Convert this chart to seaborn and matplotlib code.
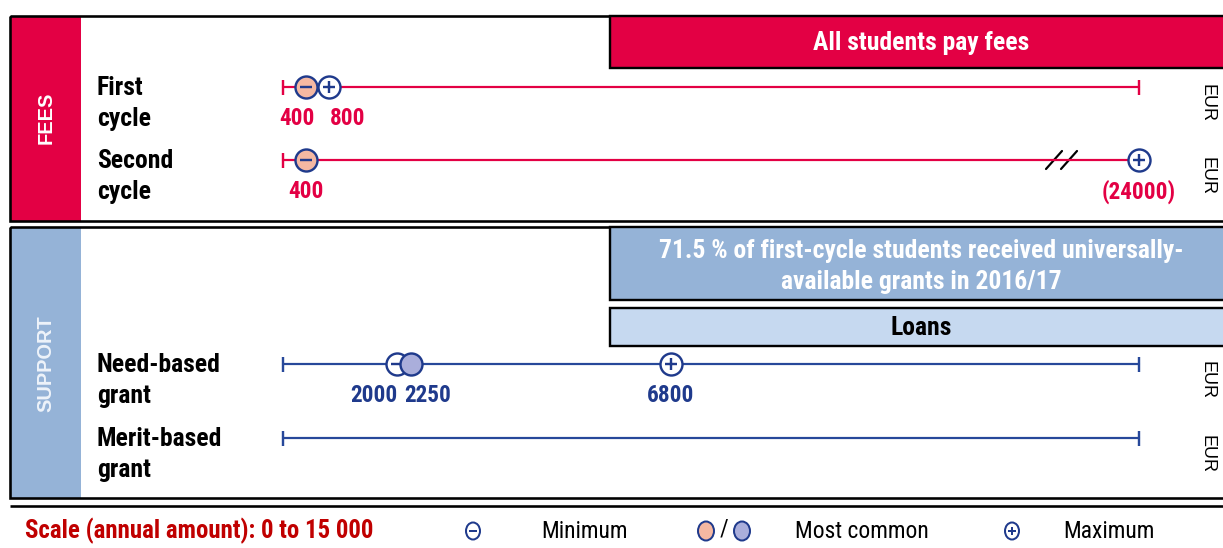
import matplotlib
matplotlib.use("Agg")
import matplotlib.pyplot as plt
from matplotlib.patches import Rectangle, Ellipse
import pandas as pd
import seaborn as sns

# ---- data -------------------------------------------------------------
categories = ["First\ncycle", "Second\ncycle", "Need-based\ngrant", "Merit-based\ngrant"]
sections = ["fees", "fees", "support", "support"]
minimum = [400, 400, 2000, None]
most_common = [400, 400, 2250, None]
maximum = [800, 24000, 6800, None]
scale_range = [0, 15000]

fees_banner = "All students pay fees"
grants_banner = ["71.5 % of first-cycle students received universally-",
                 "available grants in 2016/17"]
loans_banner = "Loans"
legend_scale = "Scale (annual amount): 0 to 15 000"
legend_items = ["Minimum", "Most common", "Maximum"]
unit = "EUR"

# ---- style ------------------------------------------------------------
sns.set_theme(style="white")
NARROW = ["Roboto Condensed", "Liberation Sans Narrow", "Roboto", "DejaVu Sans"]
ARIAL = ["Liberation Sans", "DejaVu Sans"]
plt.rcParams["font.family"] = NARROW

RED = "#E30044"
NAVY = "#1F3A8C"
BLUE_LINE = "#27489A"
BAND_BLUE = "#95B3D7"
LOAN_BLUE = "#C6D9F0"
SALMON = "#F5B8A2"
LAVENDER = "#AAAEDB"
DARK_RED = "#C00000"

W, H = 1223, 548
fig = plt.figure(figsize=(W / 100, H / 100), dpi=100)
renderer = fig.canvas.get_renderer()

# background axes in pixel units for frames, bands and text
bg = fig.add_axes([0, 0, 1, 1])
bg.set_xlim(0, W)
bg.set_ylim(H, 0)
bg.axis("off")

# value axes: x in EUR, 0..15000 spanning the scale line
X0_PX, X1_PX = 283, 1139
k = (X1_PX - X0_PX) / (scale_range[1] - scale_range[0])
ax = fig.add_axes([0, 0, 1, 1])
ax.set_xlim(scale_range[0] - X0_PX / k, scale_range[1] + (W - X1_PX) / k)
ax.set_ylim(H, 0)
ax.axis("off")
ax.patch.set_alpha(0)

PX = 0.72  # points per pixel at 100 dpi


def size_for(text, width_px, **kw):
    """Font size at which `text` spans `width_px` pixels."""
    t = fig.text(0, 0, text, fontsize=20, **kw)
    w = t.get_window_extent(renderer).width
    t.remove()
    return 20 * width_px / w


row_fs = size_for("Need-based", 123, fontweight="bold")
value_fs = size_for("2000", 47, fontweight="bold")
banner_fs = size_for(grants_banner[0], 522, fontweight="bold")
scale_fs = size_for(legend_scale, 349, fontweight="bold")
legend_fs = size_for(legend_items[1], 134)
side_fs = size_for("SUPPORT", 97, fontweight="bold", family=ARIAL)
unit_fs = size_for(unit, 38, family=ARIAL)

# ---- frames -----------------------------------------------------------
def frame(y0, y1, band_color):
    bg.add_patch(Rectangle((10, y0), 1240, y1 - y0, facecolor="white",
                           edgecolor="none", zorder=1))
    bg.add_patch(Rectangle((10, y0), 71, y1 - y0, facecolor=band_color,
                           edgecolor="none", zorder=2))
    bg.add_patch(Rectangle((10, y0), 1240, y1 - y0, facecolor="none",
                           edgecolor="black", lw=2.6 * PX, zorder=3))

frame(16, 221, RED)
frame(227, 498, BAND_BLUE)
bg.plot([10, W], [506, 506], color="black", lw=2.6 * PX, solid_capstyle="butt")

bg.text(46, 118, "FEES", rotation=90, ha="center", va="center", color="white",
        fontsize=side_fs, fontweight="bold", family=ARIAL, zorder=4)
bg.text(46, 364, "SUPPORT", rotation=90, ha="center", va="center", color="#EEF3FA",
        fontsize=side_fs, fontweight="bold", family=ARIAL, zorder=4)

# banners
bg.add_patch(Rectangle((610, 16), 640, 52, facecolor=RED, edgecolor="black",
                       lw=2.4 * PX, zorder=4))
bg.text(921, 43, fees_banner, ha="center", va="center", color="white",
        fontsize=banner_fs, fontweight="bold", zorder=5)
bg.add_patch(Rectangle((610, 227), 640, 73, facecolor=BAND_BLUE, edgecolor="black",
                       lw=2.4 * PX, zorder=4))
for line_txt, ly in zip(grants_banner, (251, 282)):
    bg.text(921, ly, line_txt, ha="center", va="center", color="white",
            fontsize=banner_fs, fontweight="bold", zorder=5)
bg.add_patch(Rectangle((610, 308), 640, 38, facecolor=LOAN_BLUE, edgecolor="black",
                       lw=2.4 * PX, zorder=4))
bg.text(921, 328, loans_banner, ha="center", va="center", color="black",
        fontsize=banner_fs, fontweight="bold", zorder=5)

# ---- rows -------------------------------------------------------------
row_y = [87, 160, 364, 438]
label_offsets = {(0, "min"): -9, (0, "max"): 19, (2, "min"): -23, (2, "common"): 16}


def draw_marker(x, y, glyph, fill, z):
    df = pd.DataFrame({"x": [x], "y": [y]})
    sns.scatterplot(data=df, x="x", y="y", ax=ax, s=(22 * PX) ** 2, color=fill,
                    edgecolor=NAVY, linewidth=2.4 * PX, zorder=z, legend=False)
    if glyph:
        ax.plot([x], [y], marker=glyph, markersize=12 * PX, mew=2.4 * PX,
                color=NAVY, zorder=z + 0.5, linestyle="none")


for i, (cat, sec, vmin, vcom, vmax, y) in enumerate(
        zip(categories, sections, minimum, most_common, maximum, row_y)):
    col = RED if sec == "fees" else BLUE_LINE
    first, second = cat.split("\n")
    bg.text(97, y + 1, first, ha="left", va="center", fontsize=row_fs,
            fontweight="bold", color="black", zorder=5)
    bg.text(97, y + 32, second, ha="left", va="center", fontsize=row_fs,
            fontweight="bold", color="black", zorder=5)
    bg.text(1207, y + 16, unit, rotation=-90, ha="center", va="center",
            fontsize=unit_fs, color="black", family=ARIAL, zorder=5)

    off_scale = vmax is not None and vmax > scale_range[1]
    line = pd.DataFrame({"x": scale_range, "y": [y, y]})
    sns.lineplot(data=line, x="x", y="y", ax=ax, color=col, lw=2.2 * PX,
                 zorder=6, legend=False)
    ax.plot([scale_range[0]], [y], marker="|", markersize=15 * PX, mew=2.4 * PX,
            color=col, zorder=6)
    if not off_scale:
        ax.plot([scale_range[1]], [y], marker="|", markersize=15 * PX, mew=2.4 * PX,
                color=col, zorder=6)
    else:
        # axis break before the off-scale maximum
        for bx in (1054, 1069):
            bg.plot([bx - 8, bx + 8], [y + 9, y - 9], color="black", lw=2.2 * PX, zorder=7)

    if vmin is None:
        continue

    fill_c = SALMON if sec == "fees" else LAVENDER
    labels = []
    z = 10
    if vmin == vcom:
        draw_marker(vmin, y, "_", fill_c, z)
        labels.append(("min", vmin))
    else:
        draw_marker(vmin, y, "_", "white", z)
        z += 1
        draw_marker(vcom, y, None, fill_c, z)
        labels += [("min", vmin), ("common", vcom)]
    z += 1
    draw_marker(min(vmax, scale_range[1]), y, "+", "white", z)
    labels.append(("max", vmax))

    lab_col = RED if sec == "fees" else NAVY
    for kind, v in labels:
        txt = f"({v})" if v > scale_range[1] else f"{v}"
        ax.annotate(txt, xy=(min(v, scale_range[1]), y),
                    xytext=(label_offsets.get((i, kind), 0) * PX, -31.5 * PX),
                    textcoords="offset points", ha="center", va="center",
                    fontsize=value_fs, fontweight="bold", color=lab_col, zorder=12)

# ---- legend -----------------------------------------------------------
LY = 531
bg.text(25, LY, legend_scale, ha="left", va="center", fontsize=scale_fs,
        fontweight="bold", color=DARK_RED)


def legend_icon(x, fill, glyph, w, h):
    bg.add_patch(Ellipse((x, LY), w, h, facecolor=fill,
                         edgecolor=NAVY, lw=2.0 * PX, zorder=5))
    if glyph:
        bg.plot([x], [LY], marker=glyph, markersize=8 * PX, mew=2.0 * PX,
                color=NAVY, zorder=6)


legend_icon(473, "white", "_", 14, 17)
bg.text(541, LY, legend_items[0], ha="left", va="center", fontsize=legend_fs,
        color="black")
legend_icon(706, SALMON, None, 16, 19)
bg.text(724, LY - 2, "/", ha="center", va="center", fontsize=legend_fs,
        color="black")
legend_icon(742, LAVENDER, None, 16, 19)
bg.text(795, LY, legend_items[1], ha="left", va="center", fontsize=legend_fs,
        color="black")
legend_icon(1012, "white", "+", 14, 17)
bg.text(1063, LY, legend_items[2], ha="left", va="center", fontsize=legend_fs,
        color="black")

fig.savefig("out.png", dpi=100)
